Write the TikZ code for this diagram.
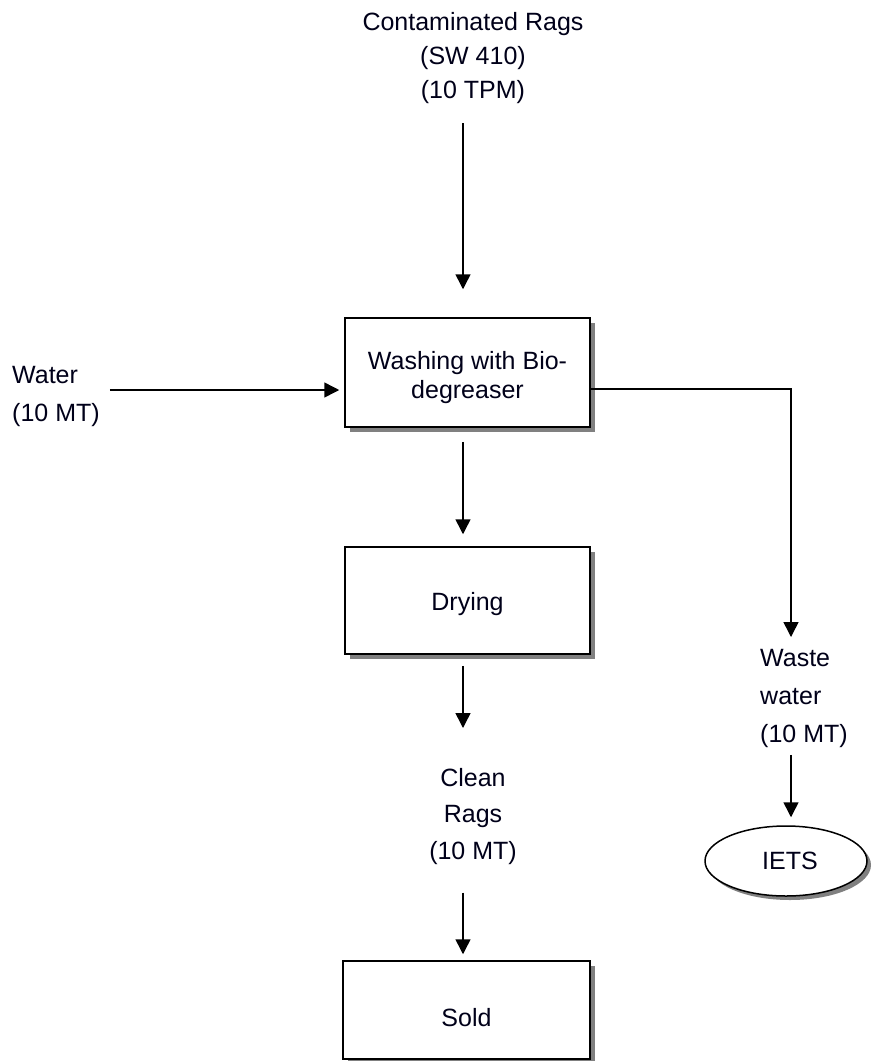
\documentclass[tikz,border=0pt]{standalone}
\usepackage{fontspec}
\setmainfont{Liberation Sans}
\usetikzlibrary{arrows.meta,shadows,shapes.geometric}
\tikzset{
  lbl/.style={inner sep=0pt, font=\fontsize{25}{34}\selectfont, text=black!90!blue},
  procbox/.style={draw, line width=1.5pt, fill=white, inner sep=0pt,
    minimum width=245pt, font=\fontsize{25}{30}\selectfont, text=black!90!blue,
    drop shadow={shadow xshift=5pt, shadow yshift=-5pt, fill=black!50, opacity=1}},
  arr/.style={line width=1.5pt, -{Triangle[width=15pt,length=15pt]}},
  flow/.style={line width=1.5pt}
}
\begin{document}
\begin{tikzpicture}[x=1pt,y=-1pt]
\useasboundingbox[fill=white] (0,0) rectangle (872,1061);

% labels
\node[lbl, align=center, anchor=north] (contam) at (473,12.5) {Contaminated Rags\\(SW 410)\\(10 TPM)};
\node[lbl, align=left, anchor=north west, font=\fontsize{25}{38}\selectfont] (water) at (12,366) {Water\\(10 MT)};
\node[lbl, align=left, anchor=north west, font=\fontsize{25}{38}\selectfont] (waste) at (760,649) {Waste\\water\\(10 MT)};
\node[lbl, align=center, anchor=north, font=\fontsize{25}{36.5}\selectfont] (clean) at (473,768) {Clean\\Rags\\(10 MT)};

% boxes
\node[procbox, minimum height=109pt] (wash) at (467.5,372.5)
  {\raisebox{-5pt}[\height][\depth]{\begin{tabular}{@{}c@{}}Washing with Bio-\\[-1pt]degreaser\end{tabular}}};
\node[procbox, minimum height=107pt] (dry) at (467.5,600.5) {\raisebox{-4pt}[\height][\depth]{Drying}};
\node[procbox, minimum width=247pt, minimum height=98pt] (sold) at (466.5,1010) {\raisebox{-8pt}[\height][\depth]{Sold}};
\node[ellipse, draw, line width=1.5pt, fill=white, minimum width=162pt, minimum height=70pt,
  inner sep=0pt, font=\fontsize{25}{30}\selectfont, text=black!90!blue,
  drop shadow={shadow xshift=4pt, shadow yshift=-4pt, fill=black!50, opacity=1}] (iets) at (786,861) {\hspace{8pt}IETS};

% connectors
\draw[arr, shorten <=19pt, shorten >=28pt] ([xshift=-4.5pt]wash.north |- contam.south) -- ([xshift=-4.5pt]wash.north);
\coordinate (win) at ([yshift=-17.5pt]wash.west);
\draw[arr, shorten <=10pt, shorten >=5pt] (water.east |- win) -- (win);
\coordinate (wout) at ([yshift=-16.5pt]wash.east);
\coordinate (wcol) at (791,389);
\draw[arr, shorten >=12pt] (wout) -- (wcol) -- (wcol |- waste.north);
\draw[arr, shorten <=7pt, shorten >=8pt] (wcol |- waste.south) -- (wcol |- iets.north);
\draw[arr, shorten <=14pt, shorten >=12pt] ([xshift=-4.5pt]wash.south) -- ([xshift=-4.5pt]dry.north);
\draw[arr, shorten <=11pt, shorten >=40pt] ([xshift=-4.5pt]dry.south) -- ([xshift=-4.5pt]dry.south |- clean.north);
\draw[arr, shorten <=28pt, shorten >=6pt] ([xshift=-3.5pt]sold.north |- clean.south) -- ([xshift=-3.5pt]sold.north);
\end{tikzpicture}
\end{document}
